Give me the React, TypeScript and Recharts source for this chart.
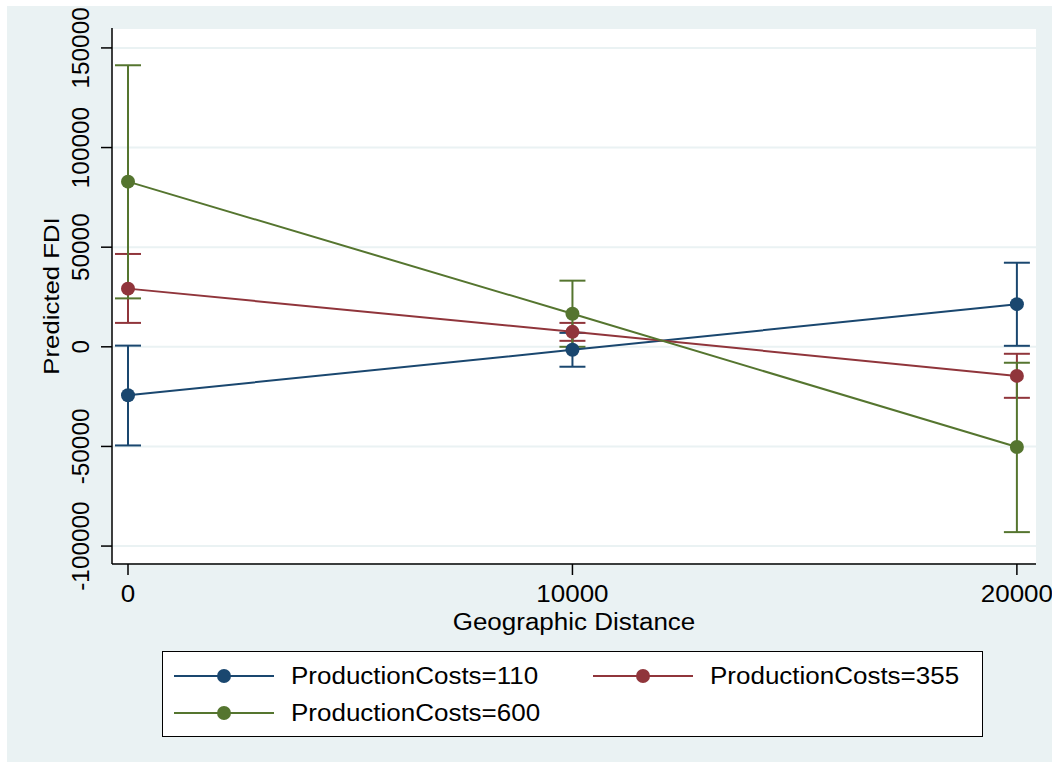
import React from "react";
import { CartesianGrid, ComposedChart, ErrorBar, Legend, Line, XAxis, YAxis } from "recharts";

// margins at geographic distance 0 / 10000 / 20000
const distance = [0, 10000, 20000];

const pc110 = [-24300, -1500, 21400];
const pc110Low = [-49500, -10000, 500];
const pc110High = [600, 7000, 42200];

const pc355 = [29200, 7500, -14600];
const pc355Low = [12000, 3000, -25600];
const pc355High = [46600, 12000, -3500];

const pc600 = [82900, 16600, -50300];
const pc600Low = [24300, 0, -93000];
const pc600High = [141300, 33200, -8000];

const xTicks = [0, 10000, 20000];
const yTicks = [-100000, -50000, 0, 50000, 100000, 150000];

const FONT = "'Liberation Sans', Arial, sans-serif";
const FS = 23;
const WIDE = 1.13; // the exported graph is a bit stretched sideways
const BG = "#eaf2f3";

const series = [
  { key: "pc110", label: "ProductionCosts=110", color: "#1a476f", vals: pc110, low: pc110Low, high: pc110High },
  { key: "pc355", label: "ProductionCosts=355", color: "#90353b", vals: pc355, low: pc355Low, high: pc355High },
  { key: "pc600", label: "ProductionCosts=600", color: "#55752f", vals: pc600, low: pc600Low, high: pc600High },
];

const rows = distance.map((x, i) => {
  const row: Record<string, any> = { x };
  series.forEach((s) => {
    row[s.key] = s.vals[i];
    row[s.key + "Err"] = [s.vals[i] - s.low[i], s.high[i] - s.vals[i]];
  });
  return row;
});

const StretchText = ({ x, y, angle = 0, stretch = WIDE, anchor = "middle", children }: any) => (
  <text
    transform={`translate(${x} ${y}) rotate(${angle}) scale(${stretch} 1)`}
    x={0}
    y={0}
    textAnchor={anchor}
    dominantBaseline="central"
    fontFamily={FONT}
    fontSize={FS}
    fill="#000"
  >
    {children}
  </text>
);

const YTick = ({ x, y, payload }: any) => (
  <StretchText x={x} y={y} angle={-90} stretch={1.06}>
    {payload.value}
  </StretchText>
);

const XTick = ({ x, y, payload }: any) => (
  <StretchText x={x} y={y + 8}>
    {payload.value}
  </StretchText>
);

const LegendBox = () => {
  const spots = [
    { lx: 11, tx: 128, cy: 24 },
    { lx: 430, tx: 547, cy: 24 },
    { lx: 11, tx: 128, cy: 61 },
  ];
  return (
    <svg width={821} height={86} style={{ display: "block", background: "#fff", border: "1.5px solid #000", boxSizing: "border-box" }}>
      {series.map((s, i) => {
        const p = spots[i];
        return (
          <g key={s.key}>
            <line x1={p.lx} x2={p.lx + 100} y1={p.cy} y2={p.cy} stroke={s.color} strokeWidth={2} />
            <circle cx={p.lx + 50} cy={p.cy} r={7} fill={s.color} />
            <StretchText x={p.tx} y={p.cy} anchor="start">
              {s.label}
            </StretchText>
          </g>
        );
      })}
    </svg>
  );
};

export default function App() {
  return (
    <div style={{ position: "absolute", left: 7, top: 6, width: 1045, height: 756, background: BG }}>
      <ComposedChart
        width={1045}
        height={756}
        data={rows}
        margin={{ top: 22, right: 16, left: 0, bottom: 158 }}
      >
        <CartesianGrid vertical={false} stroke={BG} strokeWidth={2} fill="#fff" />
        <XAxis
          dataKey="x"
          type="number"
          domain={[-360, 20430]}
          ticks={xTicks}
          allowDataOverflow
          height={40}
          tickSize={11}
          tickMargin={11}
          stroke="#000"
          strokeWidth={1.5}
          tick={<XTick />}
          label={{
            content: (props: any) => {
              const vb = props.viewBox;
              return (
                <StretchText x={vb.x + vb.width / 2} y={616}>
                  Geographic Distance
                </StretchText>
              );
            },
          }}
        />
        <YAxis
          type="number"
          domain={[-109000, 160000]}
          ticks={yTicks}
          allowDataOverflow
          width={105}
          tickSize={11}
          tickMargin={20}
          stroke="#000"
          strokeWidth={1.5}
          tick={<YTick />}
          label={{
            content: (props: any) => {
              const vb = props.viewBox;
              return (
                <StretchText x={44} y={vb.y + vb.height / 2} angle={-90} stretch={1.12}>
                  Predicted FDI
                </StretchText>
              );
            },
          }}
        />
        {/* confidence spikes first, like marginsplot */}
        {series.map((s) => (
          <Line
            key={s.key + "ci"}
            dataKey={s.key}
            stroke="none"
            dot={false}
            activeDot={false}
            legendType="none"
            isAnimationActive={false}
          >
            <ErrorBar dataKey={s.key + "Err"} direction="y" width={13} stroke={s.color} strokeWidth={2} />
          </Line>
        ))}
        {series.map((s) => (
          <Line
            key={s.key}
            type="linear"
            dataKey={s.key}
            stroke={s.color}
            strokeWidth={2}
            dot={{ r: 7, fill: s.color, stroke: s.color, strokeWidth: 0 }}
            activeDot={false}
            isAnimationActive={false}
          />
        ))}
        <Legend
          layout="vertical"
          align="center"
          verticalAlign="middle"
          content={() => <LegendBox />}
          wrapperStyle={{ left: 155, top: 645, width: 821, height: 86 }}
        />
      </ComposedChart>
    </div>
  );
}
